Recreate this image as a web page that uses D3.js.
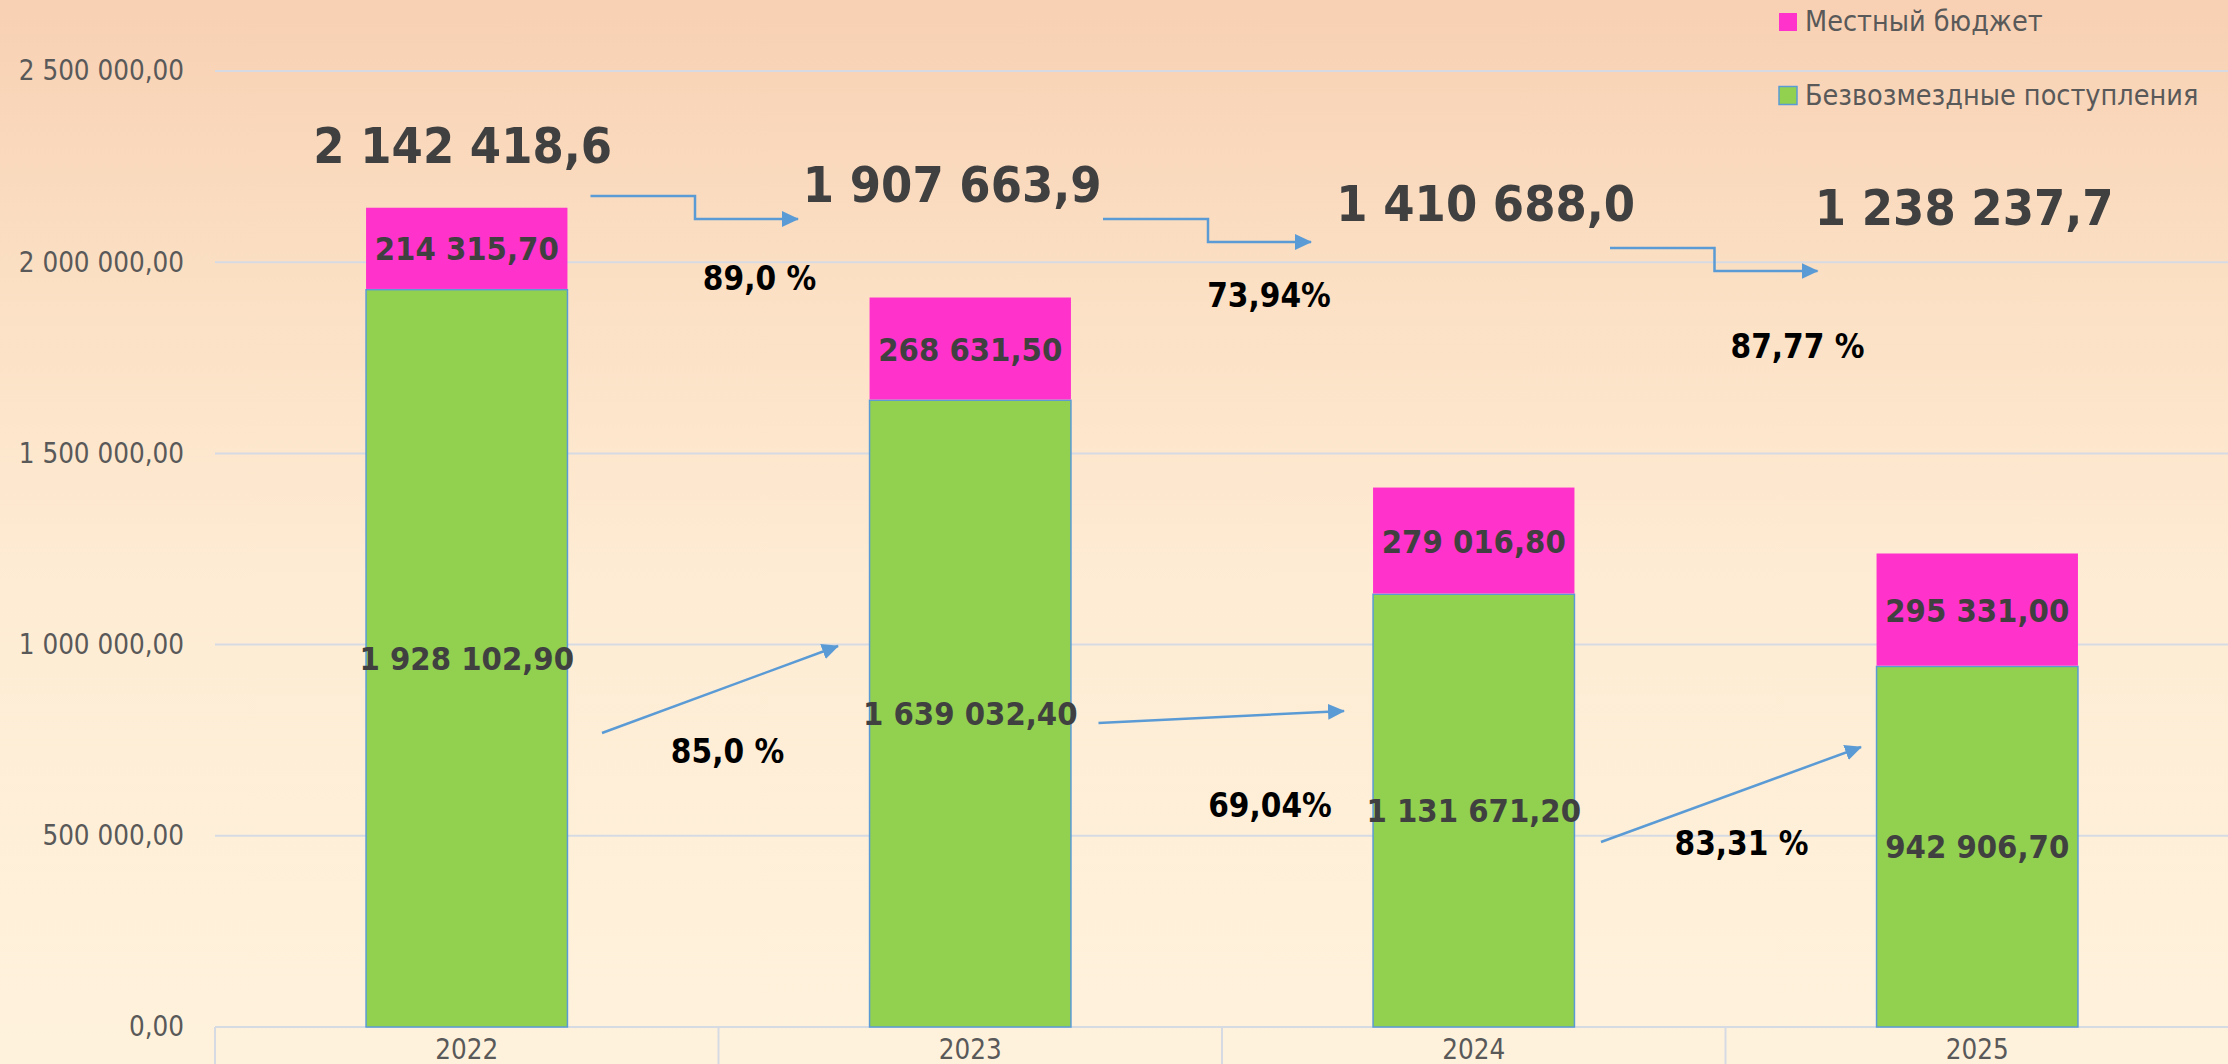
<!DOCTYPE html>
<html>
<head>
<meta charset="utf-8">
<script src="https://cdn.jsdelivr.net/npm/d3@7"></script>
<style>
    html, body { margin: 0; padding: 0; background: #fff2dc; }
    svg { display: block; }
    text { font-family: "DejaVu Sans Condensed", "DejaVu Sans", sans-serif; font-stretch: condensed; }
</style>
</head>
<body>
<div id="chart"></div>
<script>
// data
const years = ["2022", "2023", "2024", "2025"];
const grants = [1928102.9, 1639032.4, 1131671.2, 942906.7];     // Безвозмездные поступления
const localBudget = [214315.7, 268631.5, 279016.8, 295331.0];  // Местный бюджет
const totals = [2142418.6, 1907663.9, 1410688.0, 1238237.7];
const yTicks = [0, 500000, 1000000, 1500000, 2000000, 2500000];
const seriesNames = ["Местный бюджет", "Безвозмездные поступления"];
const totalShares = ["89,0 %", "73,94%", "87,77 %"];
const grantShares = ["85,0 %", "69,04%", "83,31 %"];

const width = 2228;
const height = 1064;
const plot = { left: 215, right: 2229, top: 71, bottom: 1027 };

const colors = { local: "#ff33cc", grants: "#92d050", edge: "#5b9bd5", grid: "#d6dbe3" };

// hand placed annotations (offsets from band centre / gap between bands)
const totalPos = [[-4, 163], [-18, 202], [12, 221], [-13, 225]];
const topSharePos = [[41, 290], [47, 307], [72, 358]];
const bottomSharePos = [[9, 763], [48, 817], [16, 855]];
const stepArrows = [[-128, -23.5, 79.5, 196, 219], [-119, -14, 89, 219, 242], [-115.5, -11, 92, 248, 271]];
const slopeArrows = [[-116.5, 733, 119.5, 646], [-123.5, 723, 122, 711], [-124.5, 842, 135.5, 747]];

const ru = d3.formatLocale({ decimal: ",", thousands: " ", grouping: [3], currency: ["", ""] });
const fmt2 = ru.format(",.2f");
const fmt1 = ru.format(",.1f");

const svg = d3.select("#chart").append("svg")
    .attr("width", width)
    .attr("height", height);

const defs = svg.append("defs");

const bg = defs.append("linearGradient")
    .attr("id", "bg")
    .attr("x1", 0).attr("y1", 0).attr("x2", 0).attr("y2", 1);
bg.append("stop").attr("offset", "0%").attr("stop-color", "#f8d0b3");
bg.append("stop").attr("offset", "25%").attr("stop-color", "#fbdfc3");
bg.append("stop").attr("offset", "55%").attr("stop-color", "#feecd4");
bg.append("stop").attr("offset", "100%").attr("stop-color", "#fff2dc");

defs.append("marker")
    .attr("id", "arrow")
    .attr("markerUnits", "userSpaceOnUse")
    .attr("markerWidth", 17)
    .attr("markerHeight", 16)
    .attr("viewBox", "0 0 17 16")
    .attr("refX", 16)
    .attr("refY", 8)
    .attr("orient", "auto")
    .append("path")
    .attr("d", "M0,0 L17,8 L0,16 Z")
    .attr("fill", colors.edge);

svg.append("rect")
    .attr("width", width)
    .attr("height", height)
    .attr("fill", "url(#bg)");

const x = d3.scaleBand()
    .domain(years)
    .range([plot.left, plot.right])
    .paddingInner(0)
    .paddingOuter(0);

const y = d3.scaleLinear()
    .domain([0, 2500000])
    .range([plot.bottom, plot.top]);

const barW = x.bandwidth() * 0.4;
const cx = (i) => x(years[i]) + x.bandwidth() / 2;
const gapX = (i) => x(years[i + 1]);

// gridlines
svg.append("g")
    .selectAll("line")
    .data(yTicks.filter(d => d > 0))
    .join("line")
    .attr("x1", plot.left)
    .attr("x2", width)
    .attr("y1", d => y(d))
    .attr("y2", d => y(d))
    .attr("stroke", colors.grid)
    .attr("stroke-width", 2);

// y axis labels
const yAxis = svg.append("g")
    .attr("transform", `translate(${plot.left},0)`)
    .call(d3.axisLeft(y).tickValues(yTicks).tickFormat(fmt2).tickSize(0).tickPadding(31));
yAxis.select(".domain").remove();
yAxis.selectAll("text")
    .attr("fill", "#595959")
    .style("font-size", "27.5px");

// x axis: baseline, dividers, labels
const xAxis = svg.append("g")
    .attr("transform", `translate(0,${plot.bottom})`)
    .call(d3.axisBottom(x).tickSize(0).tickPadding(12));
xAxis.select(".domain").remove();
xAxis.selectAll("text")
    .attr("fill", "#595959")
    .attr("dy", "0.71em")
    .style("font-size", "27.5px");

svg.append("line")
    .attr("x1", plot.left).attr("x2", width)
    .attr("y1", plot.bottom).attr("y2", plot.bottom)
    .attr("stroke", colors.grid)
    .attr("stroke-width", 2);

svg.append("g")
    .selectAll("line")
    .data(years.concat(["end"]))
    .join("line")
    .attr("x1", (d, i) => plot.left + i * x.step())
    .attr("x2", (d, i) => plot.left + i * x.step())
    .attr("y1", plot.bottom)
    .attr("y2", height)
    .attr("stroke", colors.grid)
    .attr("stroke-width", 2);

// stacked bars
const rows = years.map((yr, i) => ({ year: yr, grants: grants[i], local: localBudget[i], total: totals[i], i }));

const bars = svg.append("g");
bars.selectAll("rect.grants")
    .data(rows)
    .join("rect")
    .attr("class", "grants")
    .attr("x", d => cx(d.i) - barW / 2)
    .attr("width", barW)
    .attr("y", d => y(d.grants))
    .attr("height", d => y(0) - y(d.grants))
    .attr("fill", colors.grants)
    .attr("stroke", colors.edge)
    .attr("stroke-width", 1.5);

bars.selectAll("rect.local")
    .data(rows)
    .join("rect")
    .attr("class", "local")
    .attr("x", d => cx(d.i) - barW / 2)
    .attr("width", barW)
    .attr("y", d => y(d.grants + d.local))
    .attr("height", d => y(d.grants) - y(d.grants + d.local) - 0.75)
    .attr("fill", colors.local);

// segment labels
const segFont = 32.5;
const labels = svg.append("g")
    .attr("text-anchor", "middle")
    .attr("fill", "#404040")
    .style("font-weight", "bold")
    .style("font-size", segFont + "px");

labels.selectAll("text.g")
    .data(rows)
    .join("text")
    .attr("class", "g")
    .attr("x", d => cx(d.i))
    .attr("y", d => (y(0) + y(d.grants)) / 2 + segFont * 0.36)
    .text(d => fmt2(d.grants));

labels.selectAll("text.l")
    .data(rows)
    .join("text")
    .attr("class", "l")
    .attr("x", d => cx(d.i))
    .attr("y", d => (y(d.grants) + y(d.grants + d.local)) / 2 + segFont * 0.36)
    .text(d => fmt2(d.local));

// totals above
svg.append("g")
    .selectAll("text")
    .data(rows)
    .join("text")
    .attr("x", d => cx(d.i) + totalPos[d.i][0])
    .attr("y", d => totalPos[d.i][1])
    .attr("text-anchor", "middle")
    .attr("fill", "#404040")
    .style("font-weight", "bold")
    .style("font-size", "50px")
    .text(d => fmt1(d.total));

// arrows
const arrows = svg.append("g")
    .attr("fill", "none")
    .attr("stroke", colors.edge)
    .attr("stroke-width", 2.5);

arrows.selectAll("path.step")
    .data(stepArrows)
    .join("path")
    .attr("class", "step")
    .attr("d", (a, i) => {
        const b = gapX(i);
        return `M${b + a[0]},${a[3]}H${b + a[1]}V${a[4]}H${b + a[2]}`;
    })
    .attr("marker-end", "url(#arrow)");

arrows.selectAll("line.slope")
    .data(slopeArrows)
    .join("line")
    .attr("class", "slope")
    .attr("x1", (a, i) => gapX(i) + a[0])
    .attr("y1", a => a[1])
    .attr("x2", (a, i) => gapX(i) + a[2])
    .attr("y2", a => a[3])
    .attr("marker-end", "url(#arrow)");

// share labels
const shares = svg.append("g")
    .attr("text-anchor", "middle")
    .attr("fill", "#000")
    .style("font-weight", "bold")
    .style("font-size", "33px");

shares.selectAll("text.t")
    .data(totalShares)
    .join("text")
    .attr("class", "t")
    .attr("x", (d, i) => gapX(i) + topSharePos[i][0])
    .attr("y", (d, i) => topSharePos[i][1])
    .text(d => d);

shares.selectAll("text.b")
    .data(grantShares)
    .join("text")
    .attr("class", "b")
    .attr("x", (d, i) => gapX(i) + bottomSharePos[i][0])
    .attr("y", (d, i) => bottomSharePos[i][1])
    .text(d => d);

// legend
const legend = svg.append("g")
    .attr("transform", "translate(1779,0)");

const items = legend.selectAll("g")
    .data(seriesNames)
    .join("g")
    .attr("transform", (d, i) => `translate(0,${13 + i * 73.5})`);

items.append("rect")
    .attr("width", 18)
    .attr("height", 18)
    .attr("fill", (d, i) => i === 0 ? colors.local : colors.grants)
    .attr("stroke", (d, i) => i === 0 ? "none" : colors.edge)
    .attr("stroke-width", 1.5);

items.append("text")
    .attr("x", 26)
    .attr("y", 18)
    .attr("fill", "#595959")
    .style("font-size", "28.5px")
    .text(d => d);
</script>
</body>
</html>
